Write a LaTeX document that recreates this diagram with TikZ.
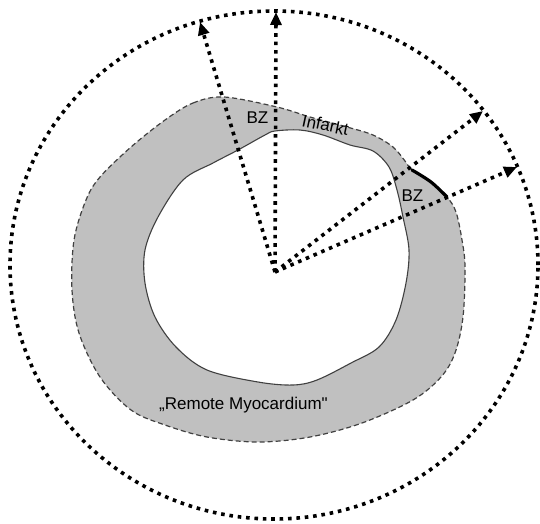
\documentclass[tikz,border=0pt]{standalone}
\usepackage{fontspec}
\setmainfont{Liberation Sans}[Ligatures=TeXOff]
\usetikzlibrary{arrows.meta}
\definecolor{wallgray}{RGB}{192,192,192}
\definecolor{edgegray}{RGB}{64,64,64}

\begin{document}
\begin{tikzpicture}[x=1pt,y=-1pt,
    dots/.style={line width=3.6pt,dash pattern=on 3.6pt off 4.8pt},
    ray/.style={dots,-{Triangle[length=13pt,width=11pt]}},
    lbl/.style={font=\fontsize{17}{20}\selectfont,inner sep=0pt}]
  \useasboundingbox (0,0) rectangle (540,523);
  % myocardial wall, epicardial border (dashed)
  \filldraw[fill=wallgray,draw=edgegray,line width=1.2pt,
    dash pattern=on 5pt off 3pt]
    plot[smooth cycle,tension=0.55] coordinates {
      (165,120) (193,103) (224,97) (277,107) (310,117) (347,127)
      (373,135) (393,147) (405,161) (412,170) (431,182) (447,197)
      (456,212) (462,240) (465,267) (463,317) (455,353) (441,377)
      (413,400) (362,423) (310,437) (258,442) (207,437) (165,425)
      (131,410) (100,377) (79,333) (72,290) (74,240) (86,200)
      (100,177) (131,147)};
  % endocardial border (solid)
  \filldraw[fill=white,draw=edgegray,line width=1.1pt]
    plot[smooth cycle,tension=0.55] coordinates {
      (275,131) (300,130) (323,135) (350,145) (373,151) (389,167)
      (397,190) (403,217) (409,250) (406,283) (396,320) (379,347)
      (351,363) (317,380) (293,385) (258,382) (207,370) (176,347)
      (155,317) (145,283) (145,250) (158,217) (183,180) (213,163)
      (238,150) (265,135)};
  % infarct segment on the outer border
  \draw[line width=3.2pt,line cap=round]
    plot[smooth,tension=0.55] coordinates {(412,170) (431,182) (447,197)};
  % outer dotted circle
  \draw[dots] (274,265) ellipse [x radius=264pt,y radius=254pt];
  % rays from the centre to the circle
  \coordinate (c) at (275,272);
  \coordinate (tipA) at (200,22);
  \coordinate (tipB) at (276,12);
  \coordinate (tipC) at (483,111);
  \coordinate (tipD) at (517,167);
  \draw[ray] (c) -- (tipA);
  \draw[ray] (c) -- (tipB);
  \draw[ray] (c) -- (tipC);
  \draw[ray] (c) -- (tipD);
  % labels
  \node[lbl,anchor=base] (bzTop) at (257.5,123) {BZ};
  \node[lbl,anchor=base] (bzRight) at (412.5,201) {BZ};
  \node[lbl,rotate=-12] (infarct) at (325.5,125) {Infarkt};
  \node[lbl,anchor=base] (remote) at (243.5,409) {„Remote Myocardium"};
\end{tikzpicture}
\end{document}
